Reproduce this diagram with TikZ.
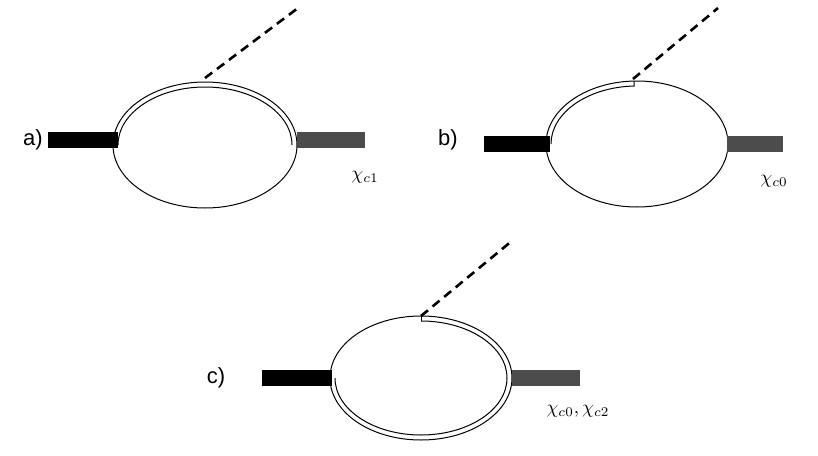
\documentclass[tikz,border=0pt]{standalone}
\usepackage{fontspec}
\setsansfont{Liberation Sans}
\begin{document}
\begin{tikzpicture}[x=1pt,y=-1pt,
  loop/.style={line width=1pt},
  dsh/.style={line width=2.6pt,dash pattern=on 9pt off 6pt},
  inb/.style={fill=black},
  outb/.style={fill=black!70},
  lab/.style={font=\sffamily\fontsize{22}{26}\selectfont},
  chi/.style={scale=1.9}]
\useasboundingbox (0,0) rectangle (818,455);
% a
\coordinate (ca) at (205,145);
\draw[loop] (ca) ellipse [x radius=92,y radius=63];
\draw[loop] (ca) ++(-87,0) arc[start angle=180,end angle=360,x radius=87,y radius=58];
\draw[dsh] (205,78) -- (298,8);
\fill[inb] (48,132) rectangle (118,148);
\fill[outb] (297,132) rectangle (365,148);
\node[lab] (la) at (33,140) {a)};
\node[chi] (xa) at (365,177) {$\chi_{c1}$};
% b
\coordinate (cb) at (637,144);
\draw[loop] (cb) ellipse [x radius=91,y radius=63];
\draw[loop] (cb) ++(-86,0) arc[start angle=180,end angle=268,x radius=86,y radius=58] -- ++(0,-5);
\draw[dsh] (633,79) -- (718,8);
\fill[inb] (484,136) rectangle (550,152);
\fill[outb] (727,136) rectangle (783,152);
\node[lab] (lb) at (448,140) {b)};
\node[chi] (xb) at (774,181) {$\chi_{c0}$};
% c
\coordinate (cc) at (421,378);
\draw[loop] (cc) ellipse [x radius=91,y radius=62];
\draw[loop] (cc) ++(0,-57) -- ++(0,-5);
\draw[loop] (cc) ++(0,-57) arc[start angle=270,end angle=540,x radius=86,y radius=57];
\draw[dsh] (421,316) -- (513,240);
\fill[inb] (262,370) rectangle (332,386);
\fill[outb] (512,370) rectangle (580,386);
\node[lab] (lc) at (216,378) {c)};
\node[chi] (xc) at (578,411) {$\chi_{c0},\chi_{c2}$};
\end{tikzpicture}
\end{document}
